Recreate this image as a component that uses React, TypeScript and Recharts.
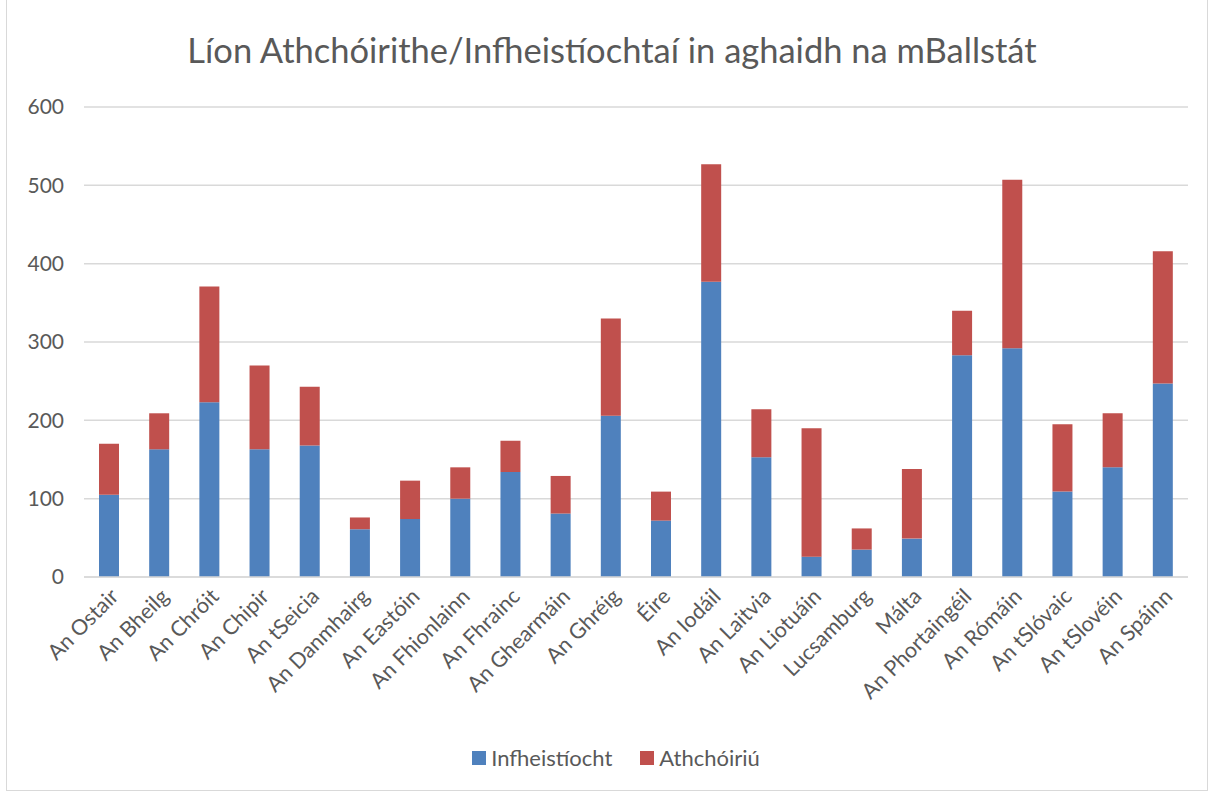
import { BarChart, Bar, XAxis, YAxis, CartesianGrid } from "recharts";

const countries = [
  "An Ostair",
  "An Bheilg",
  "An Chróit",
  "An Chipir",
  "An tSeicia",
  "An Danmhairg",
  "An Eastóin",
  "An Fhionlainn",
  "An Fhrainc",
  "An Ghearmáin",
  "An Ghréig",
  "Éire",
  "An Iodáil",
  "An Laitvia",
  "An Liotuáin",
  "Lucsamburg",
  "Málta",
  "An Phortaingéil",
  "An Rómáin",
  "An tSlóvaic",
  "An tSlovéin",
  "An Spáinn",
];

const infheistiocht = [
  105, 163, 223, 163, 168, 61, 74, 100, 134, 81, 206, 72, 377, 153, 26, 35, 49,
  283, 292, 109, 140, 247,
];

const athchoiriu = [
  65, 46, 148, 107, 75, 15, 49, 40, 40, 48, 124, 37, 150, 61, 164, 27, 89, 57,
  215, 86, 69, 169,
];

const yTicks = [0, 100, 200, 300, 400, 500, 600];

const series = [
  { key: "Infheistíocht", color: "#4f81bd" },
  { key: "Athchóiriú", color: "#c0504d" },
];

const data = countries.map((name, i) => ({
  name,
  Infheistíocht: infheistiocht[i],
  Athchóiriú: athchoiriu[i],
}));

const font = "Lato, 'Noto Sans', sans-serif";
const grey = "#595959";

export default function App() {
  return (
    <div
      style={{
        position: "absolute",
        left: 0,
        top: 0,
        width: 1213,
        height: 794,
        background: "#fff",
        fontFamily: font,
      }}
    >
      {/* outer frame */}
      <div
        style={{
          position: "absolute",
          left: 6,
          top: -1,
          width: 1202,
          height: 792,
          border: "1px solid #d9d9d9",
          boxSizing: "border-box",
        }}
      />
      <div
        style={{
          position: "absolute",
          top: 29,
          left: 0,
          width: 1224,
          textAlign: "center",
          fontSize: 34.5,
          color: grey,
          whiteSpace: "nowrap",
        }}
      >
        Líon Athchóirithe/Infheistíochtaí in aghaidh na mBallstát
      </div>
      <BarChart
        width={1213}
        height={794}
        data={data}
        margin={{ top: 107, right: 25, left: 24, bottom: 0 }}
        barSize={20}
        style={{ position: "absolute", left: 0, top: 0 }}
      >
        <CartesianGrid vertical={false} stroke="#d9d9d9" strokeWidth={1.5} />
        <XAxis
          dataKey="name"
          interval={0}
          height={217}
          axisLine={{ stroke: "#d9d9d9", strokeWidth: 1.5 }}
          tickLine={false}
          tick={{ fill: grey, fontSize: 21.5, fontFamily: font }}
          angle={-45}
          textAnchor="end"
          tickMargin={4}
        />
        <YAxis
          width={60}
          domain={[0, 600]}
          ticks={yTicks}
          axisLine={false}
          tickLine={false}
          tick={{ fill: grey, fontSize: 21, fontFamily: font }}
          tickMargin={14}
        />
        {series.map((s) => (
          <Bar
            key={s.key}
            dataKey={s.key}
            stackId="a"
            fill={s.color}
            isAnimationActive={false}
          />
        ))}
      </BarChart>
      {/* legend */}
      <div
        style={{
          position: "absolute",
          top: 744,
          left: 0,
          width: 1232,
          display: "flex",
          justifyContent: "center",
          gap: 28,
          fontSize: 22,
          color: grey,
        }}
      >
        {series.map((s) => (
          <div
            key={s.key}
            style={{ display: "flex", alignItems: "center", gap: 5 }}
          >
            <span
              style={{
                display: "inline-block",
                width: 14,
                height: 14,
                background: s.color,
              }}
            />
            <span>{s.key}</span>
          </div>
        ))}
      </div>
    </div>
  );
}
